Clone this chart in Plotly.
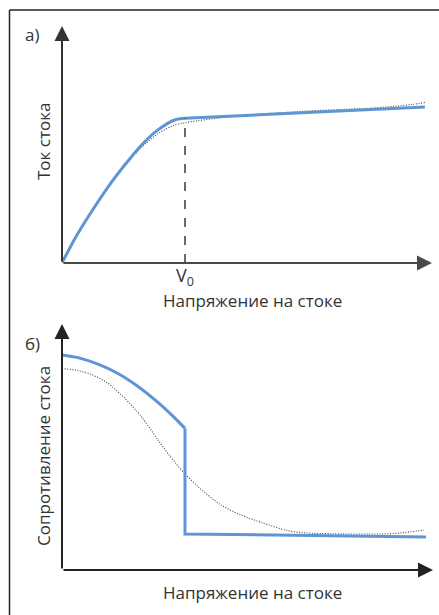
import plotly.graph_objects as go

# ---------- data (arbitrary units, V0 = 1) ----------
# Panel a: drain current vs drain voltage
xa_rise = [0.0, 0.103, 0.238, 0.374, 0.510, 0.645, 0.780, 0.916, 1.0]
ya_rise = [0.0, 0.102, 0.216, 0.322, 0.415, 0.499, 0.564, 0.606, 0.613]
xa_sat = [1.0, 2.95]
ya_sat = [0.613, 0.661]
xa_real = [0.0, 0.103, 0.238, 0.374, 0.510, 0.645, 0.780, 0.916, 1.0, 1.106, 1.285, 1.6, 2.0, 2.3, 2.5, 2.7, 2.85, 2.95]
ya_real = [0.0, 0.102, 0.216, 0.321, 0.411, 0.489, 0.548, 0.585, 0.594, 0.603, 0.615, 0.630, 0.644, 0.651, 0.656, 0.664, 0.672, 0.680]
v0 = 1.0
v0_level = 0.613

# Panel b: drain resistance vs drain voltage
xb_lin = [0.0, 0.13, 0.293, 0.455, 0.618, 0.78, 0.889, 1.0]
yb_lin = [0.878, 0.867, 0.840, 0.802, 0.749, 0.684, 0.634, 0.578]
xb_sat = [1.0, 1.0, 2.96]
yb_sat = [0.578, 0.147, 0.135]
xb_real = [0.0, 0.136, 0.244, 0.374, 0.51, 0.645, 0.78, 0.916, 1.0, 1.106, 1.285, 1.447, 1.634, 1.829, 1.959, 2.2, 2.585, 2.748, 2.943]
yb_real = [0.823, 0.813, 0.797, 0.762, 0.701, 0.626, 0.531, 0.440, 0.392, 0.340, 0.268, 0.226, 0.192, 0.161, 0.152, 0.148, 0.147, 0.151, 0.163]

x_title = "Напряжение на стоке"
ya_title = "Ток стока"
yb_title = "Сопротивление стока"
tick_label = "V<sub>0</sub>"

# ---------- figure ----------
W, H = 439, 615
BLUE = "#5e95d4"
DOT = "#444444"
TXT = "#333333"
FONT = "Open Sans"


def px(x):
    return x / W


def py(y):
    return 1 - y / H


fig = go.Figure()

DOTDASH = "1px,1.6px"
fig.add_trace(go.Scatter(x=xa_real, y=ya_real, mode="lines", xaxis="x", yaxis="y",
                         line=dict(color=DOT, width=1.1, dash=DOTDASH, shape="spline", smoothing=0.8)))
fig.add_trace(go.Scatter(x=xa_rise, y=ya_rise, mode="lines", xaxis="x", yaxis="y",
                         line=dict(color=BLUE, width=3, shape="spline", smoothing=0.8)))
fig.add_trace(go.Scatter(x=xa_sat, y=ya_sat, mode="lines", xaxis="x", yaxis="y",
                         line=dict(color=BLUE, width=3)))

fig.add_trace(go.Scatter(x=xb_real, y=yb_real, mode="lines", xaxis="x2", yaxis="y2",
                         line=dict(color=DOT, width=1.1, dash=DOTDASH, shape="spline", smoothing=0.8)))
fig.add_trace(go.Scatter(x=xb_lin, y=yb_lin, mode="lines", xaxis="x2", yaxis="y2",
                         line=dict(color=BLUE, width=3, shape="spline", smoothing=0.8)))
fig.add_trace(go.Scatter(x=xb_sat, y=yb_sat, mode="lines", xaxis="x2", yaxis="y2",
                         line=dict(color=BLUE, width=3)))

x0p, x1p = 62, 431
ya0, ya1 = 263, 27
yb0, yb1 = 570, 325

common = dict(showgrid=False, zeroline=False, showline=False, ticks="")
fig.update_layout(
    width=W, height=H,
    margin=dict(l=0, r=0, t=0, b=0),
    paper_bgcolor="white", plot_bgcolor="white",
    showlegend=False,
    font=dict(family=FONT, color=TXT, size=17),
    xaxis=dict(domain=[px(x0p), px(x1p)], range=[0, 3.0], anchor="y",
               tickvals=[v0], ticktext=[tick_label], tickfont=dict(size=18, color=TXT), **common),
    yaxis=dict(domain=[py(ya0), py(ya1)], range=[0, 1], anchor="x", showticklabels=False, **common),
    xaxis2=dict(domain=[px(x0p), px(x1p)], range=[0, 3.0], anchor="y2", showticklabels=False, **common),
    yaxis2=dict(domain=[py(yb0), py(yb1)], range=[0, 1], anchor="x2", showticklabels=False, **common),
)

# dashed V0 marker
fig.add_shape(type="line", xref="x", yref="y", x0=v0, x1=v0, y0=0, y1=v0_level,
              line=dict(color="#444444", width=1.6, dash="dash"))

# frame
fig.add_shape(type="line", xref="paper", yref="paper", x0=px(9.5), x1=px(9.5), y0=py(10), y1=-0.01,
              line=dict(color="#222222", width=1.5))
fig.add_shape(type="line", xref="paper", yref="paper", x0=px(9.5), x1=1.01, y0=py(10), y1=py(10),
              line=dict(color="#222222", width=1.5))

# axis arrows
def arrow(xt, yt, dx, dy, color):
    fig.add_annotation(x=px(xt), y=py(yt), xref="paper", yref="paper", text="",
                       showarrow=True, ax=dx, ay=dy, axref="pixel", ayref="pixel",
                       arrowhead=2, arrowsize=1.5, arrowwidth=2, arrowcolor=color, standoff=0)

arrow(432, ya0, -(432 - x0p), 0, "#4a4a4a")
arrow(x0p, ya1 - 1, 0, (ya0 - ya1 + 1), "#333333")
arrow(433, yb0, -(433 - x0p), 0, "#222222")
arrow(x0p, yb1 - 1, 0, (yb0 - yb1 + 1), "#222222")

# texts
def label(x, y, t, angle=0, size=17):
    fig.add_annotation(x=px(x), y=py(y), xref="paper", yref="paper", text=t, showarrow=False,
                       textangle=angle, font=dict(size=size, color=TXT, family=FONT),
                       xanchor="center", yanchor="middle")

label(32, 35, "а)")
label(32, 343, "б)")
label(252, 300, x_title)
label(252, 592, x_title)
label(43, 142, ya_title, angle=-90)
label(43, 456, yb_title, angle=-90)

fig.write_html("out.html")
